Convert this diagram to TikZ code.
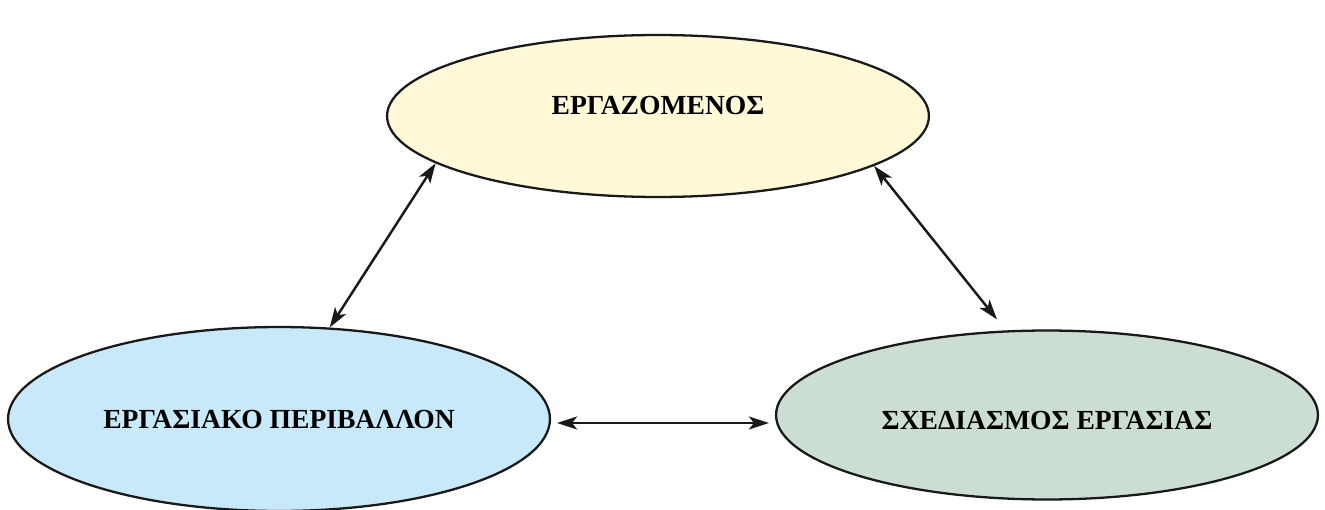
\documentclass[tikz,border=0pt]{standalone}
\usepackage{fontspec}
\setmainfont{Liberation Serif}
\usetikzlibrary{shapes.geometric,arrows.meta}
\definecolor{workerfill}{HTML}{FFF9D8}
\definecolor{envfill}{HTML}{C8E9F9}
\definecolor{planfill}{HTML}{CCDDD1}
\begin{document}
\begin{tikzpicture}[x=0.02cm, y=-0.02cm,
  blob/.style={ellipse, draw=black!90, line width=1.3pt, minimum width=10.84cm, inner sep=0pt,
    font=\fontsize{15.7}{18}\selectfont\bfseries},
  link/.style={{Stealth[length=0.4cm,width=0.26cm,inset=0.1cm]}-{Stealth[length=0.4cm,width=0.26cm,inset=0.1cm]}, line width=1.4pt, black!90}]
\useasboundingbox (0,0) rectangle (1325,510);
\node[blob, fill=workerfill, minimum height=3.24cm] (worker) at (658,116) {\raisebox{0.42cm}{ΕΡΓΑΖΟΜΕΝΟΣ}};
\node[blob, fill=envfill, minimum height=3.68cm] (env) at (279,419) {ΕΡΓΑΣΙΑΚΟ ΠΕΡΙΒΑΛΛΟΝ};
\node[blob, fill=planfill, minimum height=3.38cm, text height=0.58cm, text depth=0pt] (plan) at (1047,415) {ΣΧΕΔΙΑΣΜΟΣ ΕΡΓΑΣΙΑΣ};
% arrows between the three
\draw[link] (env.61) -- (worker.192.5);
\draw[link, shorten <=0.28cm] (plan.116.6) -- (worker.347.3);
\draw[link, shorten <=0.12cm, shorten >=0.12cm] ([yshift=-0.08cm]env.east) -- ([yshift=-0.08cm]env.east -| plan.west);
\end{tikzpicture}
\end{document}
